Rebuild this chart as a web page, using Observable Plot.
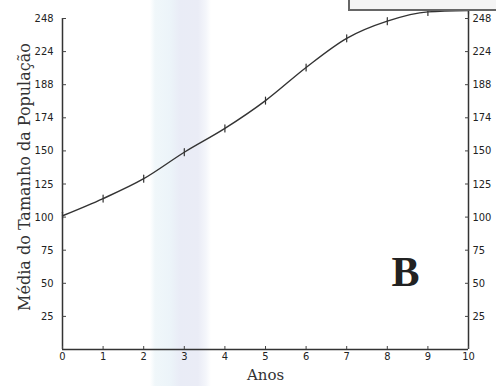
<!DOCTYPE html>
<html>
<head>
<meta charset="utf-8">
<script src="https://cdn.jsdelivr.net/npm/d3@7"></script>
<script src="https://cdn.jsdelivr.net/npm/@observablehq/plot@0.6"></script>
<style>
  html, body { margin: 0; padding: 0; background: #fff; }
  #wrap {
    position: relative; width: 496px; height: 386px; overflow: hidden;
    background: linear-gradient(to right, #fff 0px, #fff 150px, #f0f7fa 155px, #ecf4f9 170px, #e9ecf6 180px, #eaecf6 198px, #f4f6fb 206px, #fff 211px, #fff 496px);
  }
  #box {
    position: absolute; left: 348px; top: -3px; width: 150px; height: 14px;
    border: 2px solid #666; border-right: none; box-sizing: border-box;
    background: #f4f4f4;
  }
</style>
</head>
<body>
<div id="wrap"><div id="box"></div></div>
<script>
// Data
const years = [0, 1, 2, 3, 4, 5, 6, 7, 8, 9, 10];
const meanSize = [101, 114, 129, 149, 167, 188, 213, 235, 248, 255, 256];
const yTickValues = [25, 50, 75, 100, 125, 150, 175, 200, 225, 250];
const yTickLabels = ["25", "50", "75", "100", "125", "150", "174", "188", "224", "248"];
const xTickValues = [0, 1, 2, 3, 4, 5, 6, 7, 8, 9, 10];

const data = years.map((x, i) => ({x, y: meanSize[i]}));
const labelOf = v => yTickLabels[yTickValues.indexOf(v)] ?? "";

const tickFont = "'Liberation Sans Narrow', 'DejaVu Sans Condensed', 'Arial Narrow', sans-serif";
const serif = "'DejaVu Serif', 'Liberation Serif', serif";

const vline = {draw(context, l) { context.moveTo(0, 0); context.lineTo(0, -l); }};

const chart = Plot.plot({
  width: 496,
  height: 386,
  marginLeft: 62,
  marginRight: 28,
  marginTop: 18,
  marginBottom: 37,
  style: {background: "transparent", color: "#222", fontFamily: tickFont, fontSize: "11px"},
  x: {domain: [0, 10], label: null},
  y: {domain: [0, 250], label: null},
  marks: [
    Plot.ruleY([0], {stroke: "#333", strokeWidth: 1.5}),
    Plot.ruleX([0], {y1: 0, y2: 250, stroke: "#333", strokeWidth: 1.5}),
    Plot.ruleX([10], {y1: 0, y2: 262, stroke: "#333", strokeWidth: 1.5}),
    Plot.axisX({ticks: xTickValues, tickSize: -3, tickPadding: 6, stroke: "#444", fill: "#222", fontSize: 11}),
    Plot.axisY({anchor: "left", ticks: yTickValues, tickFormat: labelOf, tickSize: -4, tickPadding: 13, stroke: "#444", fill: "#222", fontSize: 11}),
    Plot.axisY({anchor: "right", ticks: yTickValues, tickFormat: labelOf, tickSize: -4, tickPadding: 8, stroke: "#444", fill: "#222", fontSize: 11}),
    Plot.line(data, {x: "x", y: "y", curve: "monotone-x", stroke: "#333", strokeWidth: 1.4}),
    Plot.vector(data, {x: "x", y: "y", length: 7, anchor: "middle", shape: vline, stroke: "#333", strokeWidth: 1.2}),
    Plot.text(["Média do Tamanho da População"], {frameAnchor: "left", textAnchor: "middle", rotate: -90, dx: -38, dy: -7, fontFamily: serif, fontSize: 16, fill: "#333"}),
    Plot.text(["Anos"], {frameAnchor: "bottom", dy: 30, fontFamily: serif, fontSize: 15, fill: "#333"}),
    Plot.text(["B"], {frameAnchor: "bottom-right", textAnchor: "middle", dx: -63, dy: -64, fontFamily: "'Liberation Serif', serif", fontSize: 42, fontWeight: "bold", fill: "#222"})
  ]
});
document.getElementById("wrap").prepend(chart);
chart.style.position = "absolute";
chart.style.left = "0";
chart.style.top = "0";
</script>
</body>
</html>
